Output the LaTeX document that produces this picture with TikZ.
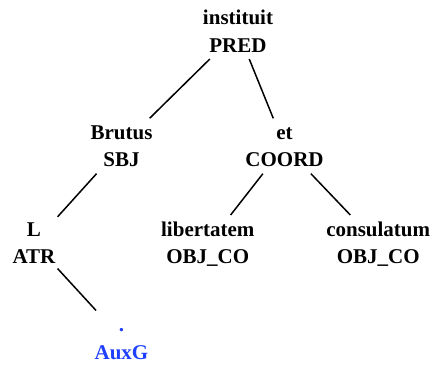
\documentclass[tikz,border=0pt]{standalone}
\usepackage{fontspec}
\setmainfont{Liberation Serif}
\definecolor{auxblue}{RGB}{32,64,255}
\newcommand{\topstrut}{\rule{0pt}{14.3pt}}
\begin{document}
\begin{tikzpicture}[x=1pt,y=-1pt,
  tnode/.style={align=center,anchor=base,inner xsep=2pt,inner ysep=6.5pt,
    font=\fontsize{21}{27.5}\selectfont\bfseries},
  edge/.style={line width=1.5pt}]
\useasboundingbox (0,0) rectangle (434,367);
\node[tnode] (inst) at (238,52.3) {\topstrut instituit\\PRED};
\node[tnode] (brut) at (121.5,166.8) {\topstrut Brutus\\SBJ};
\node[tnode] (et) at (284.5,166.8) {\topstrut et\\COORD};
\node[tnode] (L) at (34,263.8) {\topstrut L\\ATR};
\node[tnode] (lib) at (207.8,263.8) {\topstrut libertatem\\OBJ\_CO};
\node[tnode] (cons) at (378.2,263.8) {\topstrut consulatum\\OBJ\_CO};
\node[tnode,text=auxblue] (dot) at (121.5,359) {\topstrut.\\AuxG};
\draw[edge] (inst) -- (brut);
\draw[edge] (inst) -- (et);
\draw[edge] (brut) -- (L);
\draw[edge] (et) -- (lib);
\draw[edge] (et) -- (cons);
\draw[edge] (L) -- (dot);
\end{tikzpicture}
\end{document}
